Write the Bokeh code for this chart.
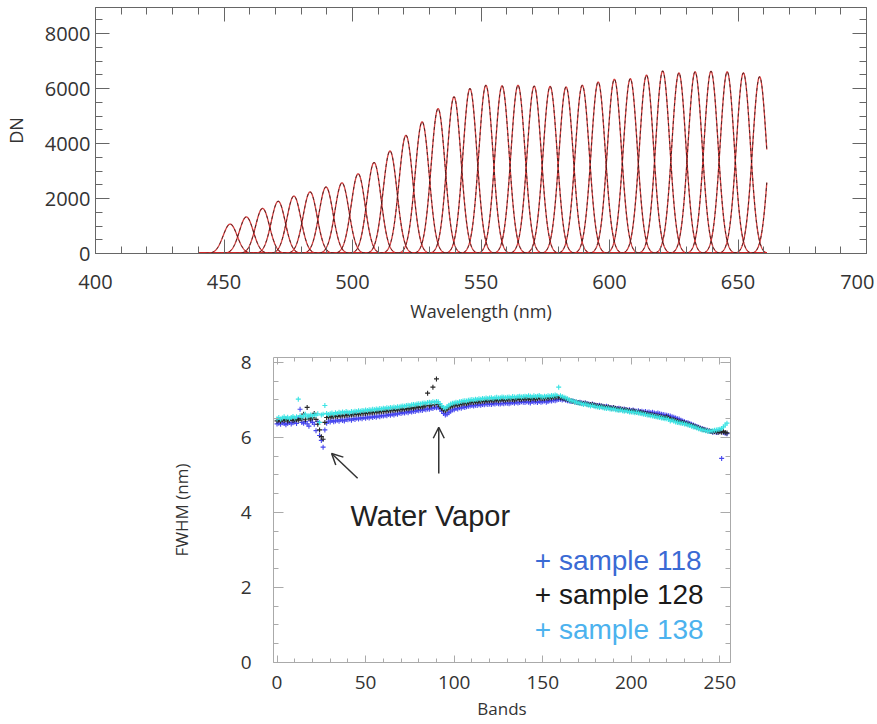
import numpy as np
from bokeh.plotting import figure
from bokeh.models import LinearAxis, SingleIntervalTicker, Range1d, Arrow, OpenHead, Label
from bokeh.embed import file_html
from bokeh.resources import INLINE

# ---------------- data: top panel (spectral response peaks) ----------------
peak_centers = [452.4, 458.7, 465.0, 471.1, 477.2, 483.5, 489.7, 495.9, 502.2, 508.4,
                514.6, 520.8, 527.1, 533.3, 539.5, 545.7, 551.9, 558.2, 564.4, 570.7,
                576.9, 583.1, 589.4, 595.6, 601.9, 608.1, 614.4, 620.7, 627.0, 633.3,
                639.5, 645.8, 652.1, 658.4, 664.8]
peak_dn = [1070, 1330, 1640, 1900, 2090, 2240, 2420, 2570, 2900, 3310,
           3730, 4300, 4790, 5270, 5700, 6000, 6120, 6100, 6120, 6090,
           6080, 6060, 6120, 6240, 6340, 6360, 6490, 6640, 6570, 6610,
           6630, 6610, 6570, 6430, 6200]
peak_fwhm = 6.4
wl_start, wl_end = 440.5, 661.3

# ---------------- data: bottom panel (FWHM per band) ----------------
bands = list(range(255))
fwhm_118 = [
 6.36, 6.38, 6.35, 6.39, 6.37, 6.34, 6.38, 6.40, 6.36, 6.39,
 6.41, 6.37, 6.52, 6.75, 6.40, 6.38, 6.42, 6.36, 6.30, 6.44,
 6.40, 6.35, 6.18, 6.42, 6.05, 5.92, 5.74, 6.20, 6.38, 6.43,
 6.41, 6.45, 6.42, 6.44, 6.46, 6.43, 6.47, 6.45, 6.44, 6.48,
 6.47, 6.49, 6.46, 6.50, 6.48, 6.51, 6.49, 6.52, 6.50, 6.53,
 6.51, 6.54, 6.52, 6.55, 6.53, 6.56, 6.54, 6.57, 6.55, 6.58,
 6.57, 6.59, 6.58, 6.61, 6.59, 6.62, 6.60, 6.63, 6.62, 6.65,
 6.64, 6.66, 6.65, 6.68, 6.66, 6.69, 6.68, 6.70, 6.69, 6.72,
 6.71, 6.73, 6.72, 6.75, 6.74, 6.76, 6.75, 6.78, 6.77, 6.80,
 6.79, 6.81, 6.76, 6.70, 6.64, 6.60, 6.62, 6.66, 6.70, 6.73,
 6.74, 6.77, 6.76, 6.79, 6.78, 6.81, 6.80, 6.82, 6.83, 6.84,
 6.85, 6.84, 6.86, 6.85, 6.87, 6.86, 6.88, 6.87, 6.89, 6.88,
 6.89, 6.88, 6.90, 6.89, 6.91, 6.90, 6.89, 6.91, 6.90, 6.92,
 6.91, 6.90, 6.92, 6.93, 6.91, 6.94, 6.92, 6.93, 6.95, 6.94,
 6.93, 6.95, 6.94, 6.92, 6.96, 6.94, 6.95, 6.93, 6.96, 6.94,
 6.95, 6.97, 6.94, 6.96, 6.98, 6.97, 6.99, 6.98, 7.00, 7.01,
 7.02, 7.00, 7.01, 6.99, 6.98, 6.97, 6.96, 6.97, 6.95, 6.94,
 6.93, 6.94, 6.92, 6.91, 6.92, 6.90, 6.89, 6.88, 6.89, 6.87,
 6.86, 6.85, 6.86, 6.84, 6.83, 6.82, 6.83, 6.81, 6.80, 6.79,
 6.80, 6.78, 6.77, 6.78, 6.76, 6.75, 6.76, 6.74, 6.73, 6.74,
 6.72, 6.73, 6.71, 6.70, 6.71, 6.69, 6.70, 6.68, 6.69, 6.67,
 6.68, 6.66, 6.67, 6.65, 6.64, 6.65, 6.63, 6.62, 6.61, 6.60,
 6.59, 6.58, 6.57, 6.55, 6.54, 6.52, 6.50, 6.49, 6.46, 6.44,
 6.42, 6.40, 6.39, 6.37, 6.35, 6.33, 6.31, 6.29, 6.27, 6.25,
 6.24, 6.22, 6.20, 6.19, 6.17, 6.16, 6.14, 6.15, 6.13, 6.14,
 6.16, 5.44, 6.13, 6.11, 6.10]
fwhm_128 = [
 6.44, 6.46, 6.43, 6.47, 6.45, 6.48, 6.44, 6.46, 6.49, 6.45,
 6.47, 6.48, 6.46, 6.50, 6.49, 6.62, 6.47, 6.80, 6.51, 6.49,
 6.52, 6.64, 6.48, 6.35, 6.20, 6.02, 5.95, 6.40, 6.53, 6.55,
 6.54, 6.56, 6.55, 6.57, 6.56, 6.58, 6.57, 6.59, 6.58, 6.60,
 6.59, 6.61, 6.60, 6.62, 6.61, 6.63, 6.62, 6.64, 6.63, 6.65,
 6.64, 6.66, 6.65, 6.67, 6.66, 6.68, 6.67, 6.69, 6.68, 6.70,
 6.69, 6.71, 6.70, 6.72, 6.71, 6.73, 6.72, 6.74, 6.73, 6.75,
 6.74, 6.76, 6.75, 6.77, 6.76, 6.78, 6.79, 6.78, 6.80, 6.81,
 6.80, 6.82, 6.81, 6.83, 6.85, 7.18, 6.84, 6.86, 7.34, 6.87,
 7.56, 6.88, 6.82, 6.77, 6.73, 6.71, 6.75, 6.79, 6.82, 6.84,
 6.85, 6.87, 6.86, 6.88, 6.89, 6.90, 6.91, 6.90, 6.92, 6.93,
 6.94, 6.93, 6.95, 6.94, 6.96, 6.95, 6.97, 6.96, 6.98, 6.97,
 6.98, 6.99, 6.97, 6.99, 7.00, 6.98, 7.00, 7.01, 6.99, 7.00,
 7.01, 7.00, 7.02, 7.01, 7.00, 7.02, 7.03, 7.01, 7.02, 7.03,
 7.02, 7.04, 7.03, 7.01, 7.04, 7.03, 7.02, 7.04, 7.05, 7.03,
 7.04, 7.03, 7.05, 7.04, 7.06, 7.05, 7.07, 7.06, 7.08, 7.07,
 7.06, 7.05, 7.04, 7.02, 7.01, 6.99, 6.98, 6.96, 6.95, 6.94,
 6.93, 6.92, 6.91, 6.90, 6.91, 6.89, 6.88, 6.87, 6.88, 6.86,
 6.85, 6.84, 6.83, 6.84, 6.82, 6.81, 6.80, 6.81, 6.79, 6.78,
 6.79, 6.77, 6.76, 6.75, 6.76, 6.74, 6.73, 6.74, 6.72, 6.71,
 6.70, 6.71, 6.69, 6.68, 6.67, 6.68, 6.66, 6.65, 6.64, 6.63,
 6.62, 6.61, 6.60, 6.59, 6.58, 6.57, 6.56, 6.55, 6.54, 6.53,
 6.55, 6.52, 6.50, 6.48, 6.47, 6.45, 6.44, 6.42, 6.41, 6.40,
 6.39, 6.37, 6.36, 6.34, 6.32, 6.31, 6.29, 6.27, 6.26, 6.24,
 6.22, 6.21, 6.19, 6.18, 6.17, 6.16, 6.15, 6.16, 6.15, 6.14,
 6.15, 6.14, 6.16, 6.13, 6.12]
fwhm_138 = [
 6.50, 6.53, 6.49, 6.52, 6.55, 6.51, 6.54, 6.50, 6.53, 6.56,
 6.52, 6.55, 7.02, 6.58, 6.54, 6.57, 6.62, 6.55, 6.58, 6.60,
 6.57, 6.61, 6.59, 6.63, 6.40, 6.60, 6.62, 6.85, 6.64, 6.61,
 6.63, 6.65, 6.62, 6.66, 6.64, 6.67, 6.65, 6.68, 6.66, 6.69,
 6.67, 6.66, 6.69, 6.68, 6.70, 6.69, 6.71, 6.70, 6.72, 6.71,
 6.73, 6.72, 6.74, 6.73, 6.75, 6.74, 6.76, 6.75, 6.77, 6.76,
 6.78, 6.77, 6.79, 6.78, 6.80, 6.79, 6.81, 6.80, 6.82, 6.81,
 6.83, 6.84, 6.83, 6.85, 6.86, 6.85, 6.87, 6.88, 6.87, 6.89,
 6.90, 6.89, 6.91, 6.92, 6.91, 6.93, 6.94, 6.93, 6.95, 6.94,
 6.96, 6.95, 6.90, 6.84, 6.80, 6.78, 6.82, 6.86, 6.89, 6.91,
 6.92, 6.94, 6.93, 6.95, 6.96, 6.97, 6.98, 6.97, 6.99, 7.00,
 7.01, 7.00, 7.02, 7.01, 7.03, 7.02, 7.04, 7.03, 7.05, 7.04,
 7.05, 7.06, 7.04, 7.06, 7.07, 7.05, 7.06, 7.08, 7.07, 7.06,
 7.07, 7.08, 7.06, 7.09, 7.08, 7.07, 7.09, 7.10, 7.08, 7.09,
 7.10, 7.09, 7.11, 7.10, 7.08, 7.11, 7.09, 7.10, 7.12, 7.09,
 7.08, 7.10, 7.09, 7.11, 7.10, 7.12, 7.11, 7.13, 7.12, 7.34,
 7.11, 7.09, 7.07, 7.05, 7.03, 7.00, 6.98, 6.97, 6.95, 6.94,
 6.92, 6.91, 6.90, 6.88, 6.89, 6.87, 6.86, 6.84, 6.85, 6.83,
 6.82, 6.81, 6.80, 6.81, 6.79, 6.78, 6.77, 6.78, 6.76, 6.75,
 6.76, 6.74, 6.73, 6.72, 6.73, 6.71, 6.70, 6.71, 6.69, 6.68,
 6.68, 6.67, 6.66, 6.67, 6.65, 6.64, 6.63, 6.62, 6.61, 6.60,
 6.59, 6.58, 6.57, 6.56, 6.55, 6.54, 6.53, 6.52, 6.51, 6.50,
 6.50, 6.48, 6.44, 6.46, 6.43, 6.41, 6.40, 6.39, 6.38, 6.37,
 6.36, 6.35, 6.33, 6.32, 6.30, 6.28, 6.27, 6.25, 6.23, 6.22,
 6.20, 6.19, 6.18, 6.17, 6.16, 6.17, 6.18, 6.19, 6.20, 6.21,
 6.22, 6.24, 6.28, 6.33, 6.38]

series_names = ["sample 118", "sample 128", "sample 138"]
point_colors = ["#4646ee", "#262626", "#3ae4e4"]
legend_colors = ["#3a6ad4", "#1a1a1a", "#4cb2ee"]

# annotation anchors (data units of the bottom panel)
arrow1 = dict(x_start=45.5, y_start=4.91, x_end=30.8, y_end=5.57)
arrow2 = dict(x_start=91.3, y_start=5.04, x_end=91.3, y_end=6.27)
wv_pos = (41.5, 3.91)
legend_x = 145.5
legend_y = [2.72, 1.82, 0.88]

TXT = "#333333"
FONT = "Open Sans"


def style_axis(ax, color, maj_in, min_in, font_size, label_font=None, show_labels=True):
    ax.axis_line_color = color
    ax.major_tick_line_color = color
    ax.minor_tick_line_color = color
    ax.major_tick_in = maj_in
    ax.major_tick_out = 0
    ax.minor_tick_in = min_in
    ax.minor_tick_out = 0
    ax.major_label_text_font = FONT
    ax.major_label_text_color = TXT
    ax.axis_label_text_font = FONT
    ax.axis_label_text_color = TXT
    ax.axis_label_text_font_style = "normal"
    if show_labels:
        ax.major_label_text_font_size = font_size
        if label_font:
            ax.axis_label_text_font_size = label_font
    else:
        ax.major_label_text_font_size = "1px"
        ax.major_label_text_color = None
        ax.major_label_standoff = 0


# ---------------- top figure ----------------
p1 = figure(frame_width=771, frame_height=246, x_range=Range1d(400, 700), y_range=Range1d(0, 8950),
            output_backend="svg", toolbar_location=None, min_border_left=93, min_border_right=8,
            min_border_top=7, min_border_bottom=72, x_axis_type=None, y_axis_type=None)
p1.grid.visible = False
p1.outline_line_color = None

xt = SingleIntervalTicker(interval=50, num_minor_ticks=5)
yt = SingleIntervalTicker(interval=2000, num_minor_ticks=4)
ax_b = LinearAxis(ticker=xt, axis_label="Wavelength (nm)")
ax_t = LinearAxis(ticker=xt)
ay_l = LinearAxis(ticker=yt, axis_label="DN")
ay_r = LinearAxis(ticker=yt)
AC1 = "#666666"
style_axis(ax_b, AC1, 14, 7, "20px", "18px")
style_axis(ax_t, AC1, 14, 7, "20px", show_labels=False)
style_axis(ay_l, AC1, 14, 7, "20px", "18px")
style_axis(ay_r, AC1, 14, 7, "20px", show_labels=False)
ax_b.major_label_standoff = 21
ax_b.axis_label_standoff = 7
ay_l.major_label_standoff = 5
ay_l.axis_label_standoff = 14
p1.add_layout(ax_b, "below")
p1.add_layout(ax_t, "above")
p1.add_layout(ay_l, "left")
p1.add_layout(ay_r, "right")

wl = np.arange(wl_start, wl_end, 0.1)
xs, ys = [], []
for c, a in zip(peak_centers, peak_dn):
    xs.append(wl)
    ys.append(a * np.exp(-4 * np.log(2) * ((wl - c) / peak_fwhm) ** 2))
p1.multi_line(xs, ys, line_color="#d02a2a", line_width=1.3, line_alpha=0.9)
p1.multi_line(xs, ys, line_color="#1a1a1a", line_width=1.0, line_dash="3 3", line_alpha=0.75)

# ---------------- bottom figure ----------------
p2 = figure(frame_width=457, frame_height=305, x_range=Range1d(-2, 256), y_range=Range1d(0, 8.13),
            output_backend="svg", toolbar_location=None, min_border_left=273, min_border_right=10,
            min_border_top=32, min_border_bottom=56, x_axis_type=None, y_axis_type=None)
p2.grid.visible = False
p2.outline_line_color = None

bxt = SingleIntervalTicker(interval=50, num_minor_ticks=5)
byt = SingleIntervalTicker(interval=2, num_minor_ticks=4)
bx_b = LinearAxis(ticker=bxt, axis_label="Bands")
bx_t = LinearAxis(ticker=bxt)
by_l = LinearAxis(ticker=byt, axis_label="FWHM (nm)")
by_r = LinearAxis(ticker=byt)
AC2 = "#aaaaaa"
style_axis(bx_b, AC2, 7, 4, "19px", "17px")
style_axis(bx_t, AC2, 7, 4, "19px", show_labels=False)
style_axis(by_l, AC2, 10, 5, "19px", "17px")
style_axis(by_r, AC2, 10, 5, "19px", show_labels=False)
bx_b.major_label_standoff = 13
bx_b.axis_label_standoff = 5
by_l.major_label_standoff = 22
by_l.axis_label_standoff = 45
p2.add_layout(bx_b, "below")
p2.add_layout(bx_t, "above")
p2.add_layout(by_l, "left")
p2.add_layout(by_r, "right")

for vals, col in zip([fwhm_118, fwhm_128, fwhm_138], point_colors):
    p2.scatter(bands, vals, marker="cross", size=5, line_color=col, line_width=1.1)

for arr in (arrow1, arrow2):
    p2.add_layout(Arrow(end=OpenHead(size=11, line_color="#333333", line_width=1.5),
                        line_color="#333333", line_width=1.5, **arr))

p2.add_layout(Label(x=wv_pos[0], y=wv_pos[1], text="Water Vapor", text_font="Liberation Sans",
                    text_font_size="29px", text_color="#222222", text_baseline="alphabetic"))
for name, col, yy in zip(series_names, legend_colors, legend_y):
    p2.add_layout(Label(x=legend_x, y=yy, text="+ " + name, text_font="Liberation Sans",
                        text_font_size="28px", text_color=col, text_baseline="alphabetic"))

open("out.html", "w").write(file_html([p1, p2], INLINE))
